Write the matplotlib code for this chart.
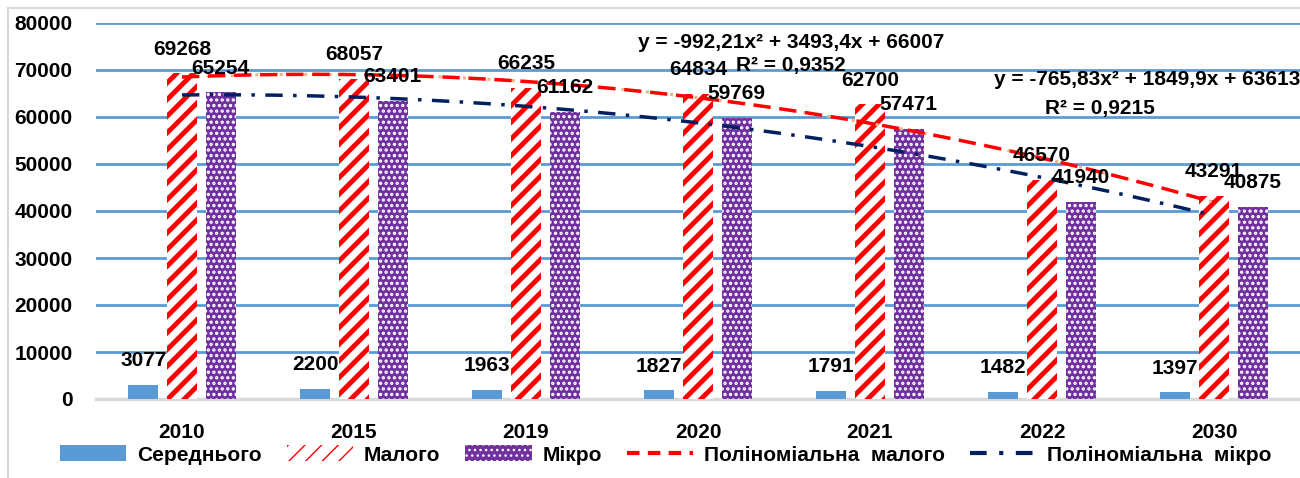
import matplotlib
matplotlib.use("Agg")
import matplotlib.pyplot as plt
import numpy as np
from matplotlib.lines import Line2D
from matplotlib.patches import Rectangle

years = ["2010", "2015", "2019", "2020", "2021", "2022", "2030"]
serednogo = [3077, 2200, 1963, 1827, 1791, 1482, 1397]
malogo = [69268, 68057, 66235, 64834, 62700, 46570, 43291]
mikro = [65254, 63401, 61162, 59769, 57471, 41940, 40875]

# trend coefficients as printed on the chart (x = 1..7)
trend_malogo = [-992.21, 3493.4, 66007]
trend_mikro = [-765.83, 1849.9, 63613]
eq_malogo = "y = -992,21x² + 3493,4x + 66007"
r2_malogo = "R² = 0,9352"
eq_mikro = "y = -765,83x² + 1849,9x + 63613"
r2_mikro = "R² = 0,9215"

plt.rcParams['font.family'] = ['Liberation Sans', 'DejaVu Sans']
plt.rcParams['font.weight'] = 'bold'
FS = 15

fig = plt.figure(figsize=(13, 4.78), dpi=100)
ax = fig.add_axes([96/1300, 1 - 399/478, 1 - 96/1300, (399 - 23)/478])

x = np.arange(len(years))
w = 0.175
off = 0.225

b1 = ax.bar(x - off, serednogo, w, color='#5B9BD5', label='Середнього', zorder=3)
with plt.rc_context({'hatch.linewidth': 3.5}):
    b2 = ax.bar(x, malogo, w, facecolor='white', edgecolor='#FF0000', hatch='//',
                linewidth=0, label='Малого', zorder=3)
with plt.rc_context({'hatch.linewidth': 1.6}):
    b3 = ax.bar(x + off, mikro, w, facecolor='#7030A0', edgecolor='white', hatch='...',
                linewidth=0, label='Мікро', zorder=3)
for r in b2:
    if hasattr(r, 'set_hatch_linewidth'):
        r.set_hatch_linewidth(3.5)
for r in b3:
    if hasattr(r, 'set_hatch_linewidth'):
        r.set_hatch_linewidth(1.6)

def autolabel(rects, vals):
    for rect, v in zip(rects, vals):
        ax.annotate(f'{v}', xy=(rect.get_x() + rect.get_width() / 2, rect.get_height()),
                    xytext=(0, 17.5), textcoords="offset points", ha='center', va='center',
                    fontsize=FS, fontweight='bold', zorder=6)

autolabel(b1, serednogo)
autolabel(b2, malogo)
autolabel(b3, mikro)

# polynomial trendlines
xt = np.linspace(1, 7, 200)
ym = np.polyval(trend_malogo, xt)
yk = np.polyval(trend_mikro, xt)
ax.plot(xt - 1, ym, color='#F4B183', linestyle=(0, (1, 3)), linewidth=2.2, zorder=4)
ax.plot(xt - 1, ym, color='#FF0000', linestyle=(0, (5, 2.5)), linewidth=2.5, zorder=4)
ax.plot(xt - 1, yk, color='#002060', linestyle=(0, (5, 3, 1, 3)), linewidth=2.5, zorder=4)

ax.text((791 - 96) / 172 - 0.5, 75800, eq_malogo, ha='center', va='center', fontsize=FS)
ax.text((791 - 96) / 172 - 0.5, 71000, r2_malogo, ha='center', va='center', fontsize=FS)
ax.text((1147 - 96) / 172 - 0.5, 68000, eq_mikro, ha='center', va='center', fontsize=FS)
ax.text((1100 - 96) / 172 - 0.5, 61800, r2_mikro, ha='center', va='center', fontsize=FS)

ax.set_xlim(-0.5, len(years) - 0.5)
ax.set_ylim(0, 80000)
ax.set_yticks(np.arange(0, 80001, 10000))
ax.set_xticks(x)
ax.set_xticklabels(years, fontsize=FS, fontweight='bold')
ax.tick_params(axis='y', length=0, pad=17, labelsize=FS)
ax.tick_params(axis='x', length=0, pad=17, labelsize=FS)
ax.grid(axis='y', color='#5B9BD5', linewidth=2, zorder=0)
ax.set_axisbelow(True)
for s in ['top', 'right', 'left']:
    ax.spines[s].set_visible(False)
ax.spines['bottom'].set_color('#D9D9D9')
ax.spines['bottom'].set_linewidth(2.5)
ax.spines['bottom'].set_zorder(2)

handles = [b1, b2, b3,
           Line2D([0], [0], color='#FF0000', linestyle=(0, (3, 2)), linewidth=3),
           Line2D([0], [0], color='#002060', linestyle=(0, (4, 3, 1, 3)), linewidth=3)]
labels = ['Середнього', 'Малого', 'Мікро', 'Поліноміальна  малого', 'Поліноміальна  мікро']
fig.legend(handles, labels, loc='center', bbox_to_anchor=(0.512, 1 - 455/478), ncol=5,
           frameon=False, fontsize=FS, handlelength=3.2, handletextpad=0.5,
           columnspacing=1.2, handleheight=0.8)

# chart area border
fig.add_artist(Rectangle((8/1300, -0.1), 1.2, 1 - 8/478 + 0.1, transform=fig.transFigure,
                         fill=False, edgecolor='#D9D9D9', linewidth=1.5))

fig.savefig('out.png', dpi=100)
